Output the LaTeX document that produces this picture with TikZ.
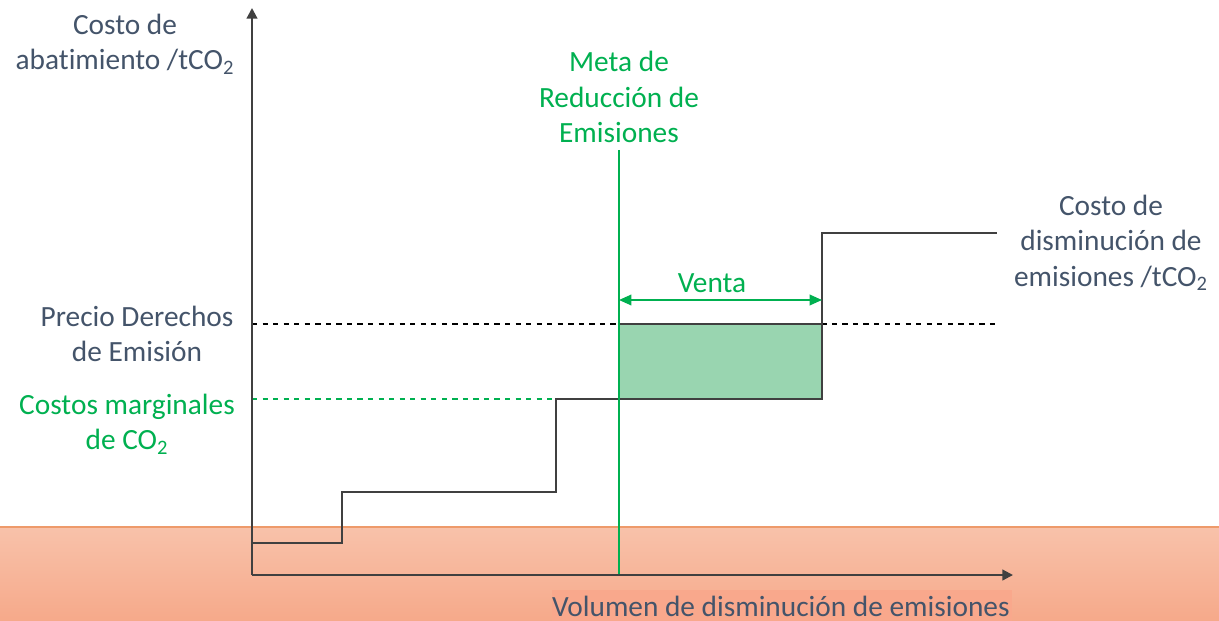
\documentclass[tikz,border=0pt]{standalone}
\usepackage{fontspec}
\setmainfont{Carlito}[Ligatures=NoCommon]
\usetikzlibrary{arrows.meta}
\definecolor{txtgray}{HTML}{44546A}
\definecolor{axisgray}{HTML}{404040}
\definecolor{mgreen}{HTML}{00B050}
\definecolor{boxgreen}{HTML}{99D5B0}
\definecolor{bandtop}{HTML}{F8C2AA}
\definecolor{bandbot}{HTML}{F6A98A}
\definecolor{bandline}{HTML}{EE9A6A}
\definecolor{lblfill}{HTML}{F9A88C}
\newcommand{\cotwo}{CO\textsubscript{2}}

\begin{document}
\begin{tikzpicture}[x=0.02cm,y=-0.02cm,
    lbl/.style={text=txtgray,font=\fontsize{16.7}{20}\selectfont,align=center,inner sep=0pt},
    glbl/.style={lbl,text=mgreen},
    axis/.style={axisgray,line width=1.2pt,-{Triangle[length=6pt,width=6pt]}},
    curve/.style={axisgray,line width=0.8pt}]
        \useasboundingbox (0,0) rectangle (1219,621);
        % band
        \shade[top color=bandtop,bottom color=bandbot] (0,527) rectangle (1219,621);
        \draw[bandline,line width=1pt] (0,527)--(1219,527);
        \fill[lblfill] (552,590) rectangle (1012,621);
        % sale box
        \fill[boxgreen] (619,324) rectangle (822,399);
        % guide lines
        \draw[black,dashed,line width=0.6pt](252,324)--(1000,324);
        \draw[mgreen,dashed,line width=0.6pt](252,399)--(556,399);
        % steps
        \draw[curve](252,543)--(342,543)--(342,492)--(556,492)--(556,399)--(822,399)--(822,324)--(619,324)--(619,399);
        \draw[curve](822,324)--(822,233)--(997,233);
        % target
        \draw[mgreen,line width=1pt](619,150)--(619,575);
        \draw[mgreen,line width=1pt,{Triangle[length=7pt,width=6pt]}-{Triangle[length=7pt,width=6pt]}](619,300)--(822,300);
        % axes
        \coordinate (o) at (252,575);
        \draw[axis](o)--(252,8);
        \draw[axis](o)--(1013,575);
        % labels
        \node[glbl] (venta) at (712,283) {Venta};
        \node[lbl] (ylab) at (125,44) {Costo de\\abatimiento /t\cotwo};
        \node[glbl] (meta) at (619,97) {Meta de\\Reducción de\\Emisiones};
        \node[lbl] (precio) at (137,334) {Precio Derechos\\de Emisión};
        \node[glbl] (marg) at (127,424) {Costos marginales\\de \cotwo};
        \node[lbl] (curvelab) at (1111,243) {Costo de\\disminución de\\emisiones /t\cotwo};
        \node[lbl,anchor=east] (xlab) at (1010,606) {Volumen de disminución de emisiones};
    \end{tikzpicture}
\end{document}
